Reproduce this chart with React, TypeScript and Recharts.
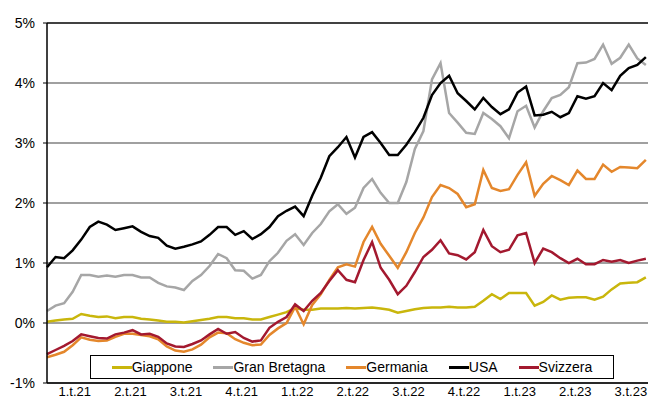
import React from 'react';
import { LineChart, Line, XAxis, YAxis, CartesianGrid, ReferenceLine } from 'recharts';

// quarters on the x axis, data are bi-weekly readings (x = week since start of 2021)
const quarterLabels = ['1.t.21', '2.t.21', '3.t.21', '4.t.21', '1.t.22', '2.t.22', '3.t.22', '4.t.22', '1.t.23', '2.t.23', '3.t.23'];
const WEEKS_PER_QUARTER = 13;
const STEP_WEEKS = 2;

const giappone = [
  0.02, 0.04, 0.06, 0.07, 0.15, 0.12, 0.1, 0.11, 0.08, 0.1, 0.1, 0.07, 0.06, 0.04, 0.02, 0.02, 0.01, 0.03,
  0.05, 0.07, 0.1, 0.1, 0.08, 0.08, 0.06, 0.06, 0.1, 0.14, 0.18, 0.25, 0.22, 0.22, 0.24, 0.24, 0.24, 0.25,
  0.24, 0.25, 0.26, 0.24, 0.22, 0.17, 0.2, 0.23, 0.25, 0.26, 0.26, 0.27, 0.26, 0.26, 0.27, 0.37, 0.48, 0.4,
  0.5, 0.5, 0.5, 0.29, 0.35, 0.46, 0.39, 0.42, 0.43, 0.43, 0.39, 0.44, 0.56, 0.66, 0.67, 0.68, 0.76,
];
const granBretagna = [
  0.2, 0.29, 0.33, 0.52, 0.8, 0.8, 0.77, 0.79, 0.77, 0.8, 0.8, 0.76, 0.76, 0.67, 0.61, 0.59, 0.55, 0.7,
  0.8, 0.95, 1.15, 1.08, 0.88, 0.87, 0.74, 0.8, 1.03, 1.17, 1.37, 1.48, 1.3, 1.5, 1.65, 1.86, 1.98, 1.82,
  1.92, 2.25, 2.4, 2.17, 2.0, 2.0, 2.35, 2.9, 3.2, 4.06, 4.33, 3.5, 3.34, 3.17, 3.15, 3.5, 3.4, 3.28,
  3.08, 3.53, 3.62, 3.26, 3.53, 3.75, 3.8, 3.93, 4.33, 4.34, 4.4, 4.64, 4.32, 4.42, 4.64, 4.41, 4.3,
];
const germania = [
  -0.57, -0.53, -0.48, -0.37, -0.24, -0.28, -0.3, -0.29, -0.23, -0.18, -0.18, -0.2, -0.22, -0.27, -0.39, -0.46, -0.48, -0.44,
  -0.36, -0.24, -0.16, -0.17, -0.27, -0.33, -0.37, -0.36, -0.2, -0.09, 0.0, 0.27, -0.02, 0.3, 0.48, 0.72, 0.93, 0.98,
  0.94, 1.35, 1.6, 1.32, 1.12, 0.92, 1.18, 1.5, 1.76, 2.1, 2.3, 2.25, 2.15, 1.93, 1.98, 2.55, 2.25, 2.2,
  2.23, 2.47, 2.68, 2.12, 2.32, 2.45, 2.38, 2.3, 2.54, 2.4, 2.4, 2.64, 2.52, 2.6, 2.59, 2.58, 2.72,
];
const usa = [
  0.93, 1.1, 1.08, 1.21, 1.39, 1.6, 1.69, 1.64, 1.55, 1.58, 1.61, 1.52, 1.45, 1.42, 1.29, 1.24, 1.27, 1.31,
  1.36, 1.47, 1.6, 1.6, 1.47, 1.53, 1.4, 1.48, 1.6, 1.78, 1.87, 1.94, 1.78, 2.12, 2.42, 2.78, 2.93, 3.1,
  2.76, 3.1, 3.18, 3.0, 2.8, 2.8, 2.97, 3.18, 3.42, 3.8, 4.0, 4.12, 3.83, 3.7, 3.56, 3.75, 3.6, 3.48,
  3.56, 3.84, 3.94, 3.46, 3.47, 3.52, 3.43, 3.5, 3.78, 3.74, 3.78, 4.0, 3.88, 4.12, 4.25, 4.3, 4.43,
];
const svizzera = [
  -0.52, -0.45, -0.38, -0.3, -0.19, -0.22, -0.25, -0.26, -0.19, -0.16, -0.12, -0.19, -0.18, -0.23, -0.34, -0.39, -0.4, -0.35,
  -0.29, -0.19, -0.1, -0.18, -0.15, -0.25, -0.31, -0.29, -0.08, 0.02, 0.1, 0.31, 0.2, 0.37, 0.5, 0.7, 0.88, 0.72,
  0.68, 1.05, 1.35, 0.92, 0.72, 0.48, 0.62, 0.85, 1.1, 1.22, 1.38, 1.16, 1.13, 1.06, 1.18, 1.55, 1.28, 1.18,
  1.22, 1.46, 1.5, 1.0, 1.24, 1.18, 1.08, 1.0, 1.07, 0.98, 0.98, 1.05, 1.02, 1.05, 1.0, 1.04, 1.07,
];

const yTicks = [-1, 0, 1, 2, 3, 4, 5];

const series = [
  { key: 'giappone', name: 'Giappone', color: '#c9b60c', values: giappone },
  { key: 'granBretagna', name: 'Gran Bretagna', color: '#a6a6a6', values: granBretagna },
  { key: 'germania', name: 'Germania', color: '#e4872c', values: germania },
  { key: 'usa', name: 'USA', color: '#000000', values: usa },
  { key: 'svizzera', name: 'Svizzera', color: '#a3192f', values: svizzera },
];

const data = usa.map((_, i) => {
  const row: Record<string, number> = { week: i * STEP_WEEKS };
  series.forEach((s) => { row[s.key] = s.values[i]; });
  return row;
});

const quarterTicks = quarterLabels.map((_, i) => (i + 0.5) * WEEKS_PER_QUARTER);
const FONT = '"Liberation Sans", Arial, sans-serif';

const Legend = () => (
  <div
    style={{
      position: 'absolute', left: 90, top: 355, width: 522, height: 22,
      border: '1px solid #000', background: '#fff',
      display: 'flex', alignItems: 'center', justifyContent: 'center', gap: 21,
      fontFamily: FONT, fontSize: 14, color: '#000',
    }}
  >
    {series.map((s) => (
      <div key={s.key} style={{ display: 'flex', alignItems: 'center' }}>
        <span style={{ display: 'inline-block', width: 20, height: 3, background: s.color }} />
        <span>{s.name}</span>
      </div>
    ))}
  </div>
);

export default function App() {
  return (
    <div style={{ position: 'absolute', left: 0, top: 0, width: 648, height: 399, overflow: 'hidden', background: '#fff' }}>
      <LineChart width={648} height={399} data={data} margin={{ top: 23, right: 0, bottom: 0, left: 0 }}>
        <CartesianGrid vertical={false} stroke="#808080" strokeWidth={1.3} />
        <ReferenceLine y={5} stroke="#222" strokeWidth={1.3} />
        <XAxis
          dataKey="week"
          type="number"
          domain={[0, 140.5]}
          ticks={quarterTicks}
          tickFormatter={(v: number) => quarterLabels[Math.round(v / WEEKS_PER_QUARTER - 0.5)]}
          height={16}
          tickLine={false}
          tickSize={4}
          tickMargin={0}
          axisLine={{ stroke: '#000', strokeWidth: 1.5 }}
          tick={{ fill: '#000', fontSize: 13, fontFamily: FONT }}
          interval={0}
        />
        <YAxis
          domain={[-1, 5]}
          ticks={yTicks}
          tickFormatter={(v: number) => `${v}%`}
          width={47}
          tickSize={4}
          tickMargin={8}
          axisLine={{ stroke: '#000', strokeWidth: 1.5 }}
          tickLine={{ stroke: '#000' }}
          tick={{ fill: '#000', fontSize: 14, fontFamily: FONT }}
          interval={0}
        />
        {series.map((s) => (
          <Line
            key={s.key}
            type="linear"
            dataKey={s.key}
            name={s.name}
            stroke={s.color}
            strokeWidth={2.5}
            dot={false}
            isAnimationActive={false}
          />
        ))}
      </LineChart>
      <Legend />
    </div>
  );
}
